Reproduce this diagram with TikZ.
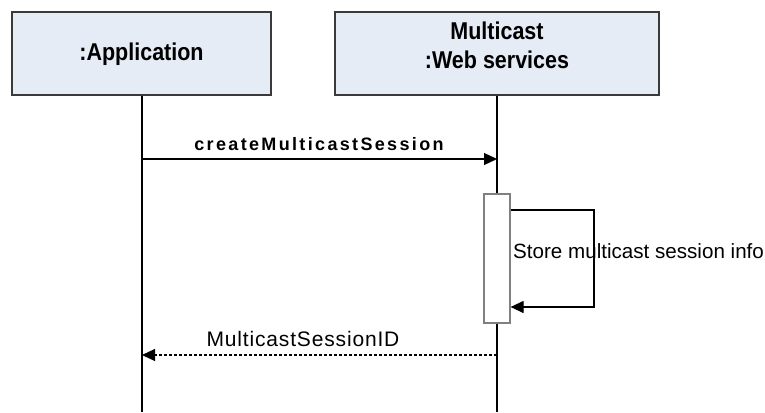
\documentclass[tikz,border=0pt]{standalone}
\usepackage{fontspec}
\setmainfont{Liberation Sans}
\usetikzlibrary{arrows.meta}
\definecolor{boxfill}{HTML}{E6ECF6}
\definecolor{boxline}{HTML}{3A3A3A}
\definecolor{actline}{HTML}{808080}
\newcommand{\tallbold}[1]{\scalebox{1}[1.13]{\fontsize{21.5}{28}\selectfont\bfseries #1}}
\tikzset{
  objbox/.style={draw=boxline, line width=1.2pt, fill=boxfill, minimum height=83pt, inner sep=0pt},
  objtext/.style={inner sep=0pt, anchor=base},
  lifeline/.style={line width=1.2pt, black},
  actbox/.style={draw=actline, line width=1.2pt, fill=white, minimum width=26pt, minimum height=129pt, inner sep=0pt},
  msg/.style={line width=1.2pt, -{Triangle[length=13pt,width=12pt]}},
  ret/.style={msg, dash pattern=on 3pt off 2pt},
  lbl/.style={inner sep=0pt}
}
\begin{document}
\begin{tikzpicture}[x=1pt,y=-1pt]
\useasboundingbox (0,0) rectangle (765,412);
\node[objbox, minimum width=259pt] (app) at (141.5,53.5) {};
\node[objbox, minimum width=324pt] (ws) at (497,53.5) {};
\node[objtext] (appt) at (141.5,60.7) {\tallbold{:Application}};
\node[objtext] (wst1) at (497,40) {\tallbold{Multicast}};
\node[objtext] (wst2) at (497,68.5) {\tallbold{:Web services}};
\coordinate (append) at (142,412);
\coordinate (wsend) at (497,412);
\draw[lifeline] (app.south -| append) -- (append);
\draw[lifeline] (ws.south -| wsend) -- (wsend);
\node[actbox] (act) at (497,258.5) {};
% create message
\coordinate (m1s) at (142,159);
\coordinate (m1e) at (497,159);
\draw[msg] (m1s) -- (m1e);
\node[lbl, anchor=base, font=\fontsize{18}{20}\selectfont\bfseries\addfontfeature{LetterSpace=13}] (m1l) at (319,150.5) {createMulticastSession};
% self loop
\coordinate (l1) at (act.east |- 0,210);
\coordinate (l2) at (594,210);
\coordinate (l3) at (594,307);
\coordinate (l4) at (act.east |- 0,307);
\draw[msg] (l1) -- (l2) -- (l3) -- (l4);
\node[lbl, anchor=base west, font=\fontsize{20.6}{24}\selectfont] (sl) at (513,258) {Store multicast session info};
% return
\coordinate (r1s) at (497,355);
\coordinate (r1e) at (142,355);
\draw[ret] (r1s) -- (r1e);
\node[lbl, anchor=base, font=\fontsize{21}{24}\selectfont\addfontfeature{LetterSpace=4}] (rl) at (303,346) {MulticastSessionID};
\end{tikzpicture}
\end{document}
